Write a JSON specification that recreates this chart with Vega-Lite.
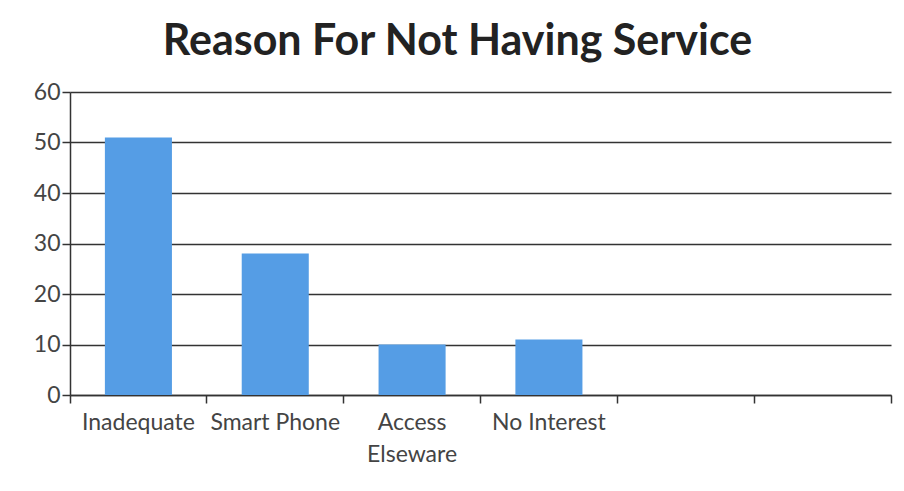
{
  "$schema": "https://vega.github.io/schema/vega-lite/v6.json",
  "width": 821,
  "height": 303,
  "autosize": "none",
  "padding": {"left": 70, "top": 92, "right": 13, "bottom": 96},
  "background": "white",
  "title": {
    "text": "Reason For Not Having Service",
    "font": "Lato",
    "fontSize": 43,
    "fontWeight": "bold",
    "color": "#222222",
    "anchor": "middle",
    "dx": -23,
    "offset": 17
  },
  "data": {
    "values": [
      {"reason": "Inadequate", "count": 51},
      {"reason": "Smart Phone", "count": 28},
      {"reason": "Access Elseware", "count": 10},
      {"reason": "No Interest", "count": 11}
    ]
  },
  "mark": {"type": "bar", "color": "#559de5", "width": {"band": 0.49}},
  "encoding": {
    "x": {
      "field": "reason",
      "type": "nominal",
      "sort": null,
      "scale": {
        "domain": ["Inadequate", "Smart Phone", "Access Elseware", "No Interest", "e1", "e2"],
        "paddingInner": 0,
        "paddingOuter": 0
      },
      "axis": {
        "title": null,
        "labelAngle": 0,
        "bandPosition": 1,
        "tickExtra": true,
        "grid": false,
        "labelExpr": "datum.value == 'Access Elseware' ? ['Access', 'Elseware'] : (datum.value == 'e1' || datum.value == 'e2' ? '' : datum.value)",
        "labelFont": "Lato",
        "labelFontSize": 23,
        "labelColor": "#444444",
        "labelPadding": 8,
        "labelLineHeight": 32,
        "domainColor": "#333333",
        "domainWidth": 1.5,
        "tickColor": "#333333",
        "tickWidth": 1.5,
        "tickSize": 8
      }
    },
    "y": {
      "field": "count",
      "type": "quantitative",
      "scale": {"domain": [0, 60]},
      "axis": {
        "title": null,
        "values": [0, 10, 20, 30, 40, 50, 60],
        "grid": true,
        "gridColor": "#333333",
        "gridWidth": 1.3,
        "labelFont": "Lato",
        "labelFontSize": 23,
        "labelColor": "#444444",
        "labelPadding": 2,
        "domainColor": "#333333",
        "domainWidth": 1.5,
        "tickColor": "#333333",
        "tickWidth": 1.5,
        "tickSize": 8
      }
    }
  },
  "config": {"view": {"stroke": null}}
}
